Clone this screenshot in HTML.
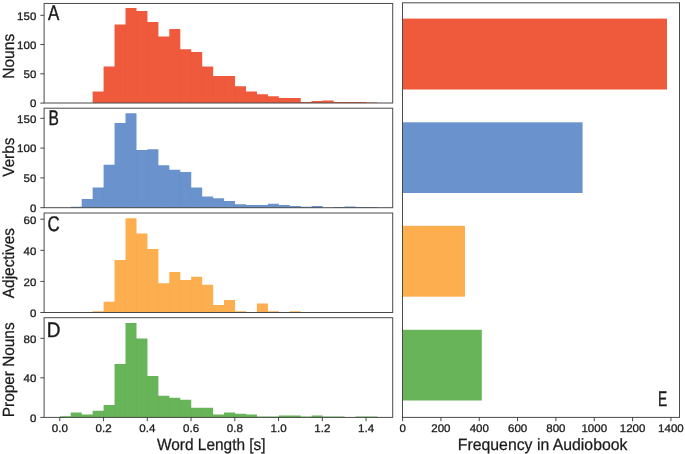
<!DOCTYPE html>
<html><head><meta charset="utf-8"><title>Figure</title>
<style>
html,body{margin:0;padding:0;background:#fff;}
svg{display:block;font-family:"Liberation Sans",sans-serif;fill:#1a1a1a;text-rendering:geometricPrecision;}
</style></head><body>
<svg width="685" height="454" viewBox="0 0 685 454">
<rect x="0" y="0" width="685" height="454" fill="#ffffff"/>
<g opacity="0.999">
<path d="M92.65,103.00V91.60H103.65V103.00ZM103.60,103.00V66.40H114.60V103.00ZM114.55,103.00V24.50H125.55V103.00ZM125.50,103.00V8.00H136.50V103.00ZM136.45,103.00V10.90H147.45V103.00ZM147.40,103.00V22.10H158.40V103.00ZM158.35,103.00V36.60H169.35V103.00ZM169.30,103.00V29.10H180.30V103.00ZM180.25,103.00V49.20H191.25V103.00ZM191.20,103.00V51.90H202.20V103.00ZM202.15,103.00V66.40H213.15V103.00ZM213.10,103.00V76.10H224.10V103.00ZM224.05,103.00V76.10H235.05V103.00ZM235.00,103.00V86.20H246.00V103.00ZM245.95,103.00V91.40H256.95V103.00ZM256.90,103.00V94.20H267.90V103.00ZM267.85,103.00V96.20H278.85V103.00ZM278.80,103.00V97.90H289.80V103.00ZM289.75,103.00V97.90H300.75V103.00ZM300.70,103.00V102.10H311.70V103.00ZM311.65,103.00V101.10H322.65V103.00ZM322.60,103.00V100.40H333.60V103.00ZM333.55,103.00V102.10H344.55V103.00ZM344.50,103.00V102.10H355.50V103.00ZM355.45,103.00V102.10H366.45V103.00ZM366.40,103.00V102.50H377.40V103.00Z" fill="#ee5a3b"/>
<line x1="103.60" y1="91.60" x2="103.60" y2="102.50" stroke="#000" stroke-opacity="0.016" stroke-width="1"/>
<line x1="114.55" y1="66.40" x2="114.55" y2="102.50" stroke="#000" stroke-opacity="0.016" stroke-width="1"/>
<line x1="125.50" y1="24.50" x2="125.50" y2="102.50" stroke="#000" stroke-opacity="0.016" stroke-width="1"/>
<line x1="136.45" y1="10.90" x2="136.45" y2="102.50" stroke="#000" stroke-opacity="0.016" stroke-width="1"/>
<line x1="147.40" y1="22.10" x2="147.40" y2="102.50" stroke="#000" stroke-opacity="0.016" stroke-width="1"/>
<line x1="158.35" y1="36.60" x2="158.35" y2="102.50" stroke="#000" stroke-opacity="0.016" stroke-width="1"/>
<line x1="169.30" y1="36.60" x2="169.30" y2="102.50" stroke="#000" stroke-opacity="0.016" stroke-width="1"/>
<line x1="180.25" y1="49.20" x2="180.25" y2="102.50" stroke="#000" stroke-opacity="0.016" stroke-width="1"/>
<line x1="191.20" y1="51.90" x2="191.20" y2="102.50" stroke="#000" stroke-opacity="0.016" stroke-width="1"/>
<line x1="202.15" y1="66.40" x2="202.15" y2="102.50" stroke="#000" stroke-opacity="0.016" stroke-width="1"/>
<line x1="213.10" y1="76.10" x2="213.10" y2="102.50" stroke="#000" stroke-opacity="0.016" stroke-width="1"/>
<line x1="224.05" y1="76.10" x2="224.05" y2="102.50" stroke="#000" stroke-opacity="0.016" stroke-width="1"/>
<line x1="235.00" y1="86.20" x2="235.00" y2="102.50" stroke="#000" stroke-opacity="0.016" stroke-width="1"/>
<line x1="245.95" y1="91.40" x2="245.95" y2="102.50" stroke="#000" stroke-opacity="0.016" stroke-width="1"/>
<line x1="256.90" y1="94.20" x2="256.90" y2="102.50" stroke="#000" stroke-opacity="0.016" stroke-width="1"/>
<line x1="267.85" y1="96.20" x2="267.85" y2="102.50" stroke="#000" stroke-opacity="0.016" stroke-width="1"/>
<line x1="278.80" y1="97.90" x2="278.80" y2="102.50" stroke="#000" stroke-opacity="0.016" stroke-width="1"/>
<line x1="289.75" y1="97.90" x2="289.75" y2="102.50" stroke="#000" stroke-opacity="0.016" stroke-width="1"/>
<rect x="44.1" y="3.45" width="348.59999999999997" height="99.55" fill="none" stroke="#4a4a4a" stroke-width="1"/>
<path d="M70.75,207.70V206.80H81.75V207.70ZM81.70,207.70V199.00H92.70V207.70ZM92.65,207.70V187.60H103.65V207.70ZM103.60,207.70V164.80H114.60V207.70ZM114.55,207.70V123.00H125.55V207.70ZM125.50,207.70V113.20H136.50V207.70ZM136.45,207.70V149.90H147.45V207.70ZM147.40,207.70V149.20H158.40V207.70ZM158.35,207.70V165.20H169.35V207.70ZM169.30,207.70V169.80H180.30V207.70ZM180.25,207.70V171.90H191.25V207.70ZM191.20,207.70V187.40H202.20V207.70ZM202.15,207.70V196.40H213.15V207.70ZM213.10,207.70V198.30H224.10V207.70ZM224.05,207.70V201.10H235.05V207.70ZM235.00,207.70V204.30H246.00V207.70ZM245.95,207.70V205.10H256.95V207.70ZM256.90,207.70V205.10H267.90V207.70ZM267.85,207.70V203.70H278.85V207.70ZM278.80,207.70V205.00H289.80V207.70ZM289.75,207.70V205.90H300.75V207.70ZM300.70,207.70V206.70H311.70V207.70ZM311.65,207.70V205.90H322.65V207.70ZM333.55,207.70V207.00H344.55V207.70ZM344.50,207.70V206.50H355.50V207.70ZM355.45,207.70V207.10H366.45V207.70ZM366.40,207.70V207.00H377.40V207.70Z" fill="#6a93cd"/>
<line x1="92.65" y1="199.00" x2="92.65" y2="207.20" stroke="#000" stroke-opacity="0.016" stroke-width="1"/>
<line x1="103.60" y1="187.60" x2="103.60" y2="207.20" stroke="#000" stroke-opacity="0.016" stroke-width="1"/>
<line x1="114.55" y1="164.80" x2="114.55" y2="207.20" stroke="#000" stroke-opacity="0.016" stroke-width="1"/>
<line x1="125.50" y1="123.00" x2="125.50" y2="207.20" stroke="#000" stroke-opacity="0.016" stroke-width="1"/>
<line x1="136.45" y1="149.90" x2="136.45" y2="207.20" stroke="#000" stroke-opacity="0.016" stroke-width="1"/>
<line x1="147.40" y1="149.90" x2="147.40" y2="207.20" stroke="#000" stroke-opacity="0.016" stroke-width="1"/>
<line x1="158.35" y1="165.20" x2="158.35" y2="207.20" stroke="#000" stroke-opacity="0.016" stroke-width="1"/>
<line x1="169.30" y1="169.80" x2="169.30" y2="207.20" stroke="#000" stroke-opacity="0.016" stroke-width="1"/>
<line x1="180.25" y1="171.90" x2="180.25" y2="207.20" stroke="#000" stroke-opacity="0.016" stroke-width="1"/>
<line x1="191.20" y1="187.40" x2="191.20" y2="207.20" stroke="#000" stroke-opacity="0.016" stroke-width="1"/>
<line x1="202.15" y1="196.40" x2="202.15" y2="207.20" stroke="#000" stroke-opacity="0.016" stroke-width="1"/>
<line x1="213.10" y1="198.30" x2="213.10" y2="207.20" stroke="#000" stroke-opacity="0.016" stroke-width="1"/>
<line x1="224.05" y1="201.10" x2="224.05" y2="207.20" stroke="#000" stroke-opacity="0.016" stroke-width="1"/>
<line x1="235.00" y1="204.30" x2="235.00" y2="207.20" stroke="#000" stroke-opacity="0.016" stroke-width="1"/>
<line x1="245.95" y1="205.10" x2="245.95" y2="207.20" stroke="#000" stroke-opacity="0.016" stroke-width="1"/>
<line x1="256.90" y1="205.10" x2="256.90" y2="207.20" stroke="#000" stroke-opacity="0.016" stroke-width="1"/>
<line x1="267.85" y1="205.10" x2="267.85" y2="207.20" stroke="#000" stroke-opacity="0.016" stroke-width="1"/>
<line x1="278.80" y1="205.00" x2="278.80" y2="207.20" stroke="#000" stroke-opacity="0.016" stroke-width="1"/>
<rect x="44.1" y="108.2" width="348.59999999999997" height="99.49999999999999" fill="none" stroke="#4a4a4a" stroke-width="1"/>
<path d="M92.65,312.50V311.30H103.65V312.50ZM103.60,312.50V301.70H114.60V312.50ZM114.55,312.50V259.90H125.55V312.50ZM125.50,312.50V218.20H136.50V312.50ZM136.45,312.50V233.40H147.45V312.50ZM147.40,312.50V248.90H158.40V312.50ZM158.35,312.50V283.20H169.35V312.50ZM169.30,312.50V272.00H180.30V312.50ZM180.25,312.50V280.10H191.25V312.50ZM191.20,312.50V276.80H202.20V312.50ZM202.15,312.50V284.70H213.15V312.50ZM213.10,312.50V305.00H224.10V312.50ZM224.05,312.50V300.00H235.05V312.50ZM235.00,312.50V311.20H246.00V312.50ZM256.90,312.50V303.50H267.90V312.50ZM267.85,312.50V311.20H278.85V312.50ZM289.75,312.50V311.20H300.75V312.50Z" fill="#fdae4f"/>
<line x1="114.55" y1="301.70" x2="114.55" y2="312.00" stroke="#000" stroke-opacity="0.016" stroke-width="1"/>
<line x1="125.50" y1="259.90" x2="125.50" y2="312.00" stroke="#000" stroke-opacity="0.016" stroke-width="1"/>
<line x1="136.45" y1="233.40" x2="136.45" y2="312.00" stroke="#000" stroke-opacity="0.016" stroke-width="1"/>
<line x1="147.40" y1="248.90" x2="147.40" y2="312.00" stroke="#000" stroke-opacity="0.016" stroke-width="1"/>
<line x1="158.35" y1="283.20" x2="158.35" y2="312.00" stroke="#000" stroke-opacity="0.016" stroke-width="1"/>
<line x1="169.30" y1="283.20" x2="169.30" y2="312.00" stroke="#000" stroke-opacity="0.016" stroke-width="1"/>
<line x1="180.25" y1="280.10" x2="180.25" y2="312.00" stroke="#000" stroke-opacity="0.016" stroke-width="1"/>
<line x1="191.20" y1="280.10" x2="191.20" y2="312.00" stroke="#000" stroke-opacity="0.016" stroke-width="1"/>
<line x1="202.15" y1="284.70" x2="202.15" y2="312.00" stroke="#000" stroke-opacity="0.016" stroke-width="1"/>
<line x1="213.10" y1="305.00" x2="213.10" y2="312.00" stroke="#000" stroke-opacity="0.016" stroke-width="1"/>
<line x1="224.05" y1="305.00" x2="224.05" y2="312.00" stroke="#000" stroke-opacity="0.016" stroke-width="1"/>
<rect x="44.1" y="213.0" width="348.59999999999997" height="99.5" fill="none" stroke="#4a4a4a" stroke-width="1"/>
<path d="M59.80,417.40V416.30H70.80V417.40ZM70.75,417.40V412.50H81.75V417.40ZM81.70,417.40V414.60H92.70V417.40ZM92.65,417.40V410.80H103.65V417.40ZM103.60,417.40V404.90H114.60V417.40ZM114.55,417.40V363.90H125.55V417.40ZM125.50,417.40V322.90H136.50V417.40ZM136.45,417.40V338.40H147.45V417.40ZM147.40,417.40V376.00H158.40V417.40ZM158.35,417.40V395.80H169.35V417.40ZM169.30,417.40V397.70H180.30V417.40ZM180.25,417.40V399.70H191.25V417.40ZM191.20,417.40V407.80H202.20V417.40ZM202.15,417.40V407.80H213.15V417.40ZM213.10,417.40V414.60H224.10V417.40ZM224.05,417.40V412.60H235.05V417.40ZM235.00,417.40V413.70H246.00V417.40ZM245.95,417.40V414.60H256.95V417.40ZM256.90,417.40V416.40H267.90V417.40ZM267.85,417.40V416.40H278.85V417.40ZM278.80,417.40V415.40H289.80V417.40ZM289.75,417.40V415.40H300.75V417.40ZM300.70,417.40V416.50H311.70V417.40ZM311.65,417.40V415.40H322.65V417.40ZM322.60,417.40V416.50H333.60V417.40ZM333.55,417.40V416.50H344.55V417.40ZM355.45,417.40V416.60H366.45V417.40ZM366.40,417.40V416.60H377.40V417.40Z" fill="#68b458"/>
<line x1="81.70" y1="414.60" x2="81.70" y2="416.90" stroke="#000" stroke-opacity="0.016" stroke-width="1"/>
<line x1="92.65" y1="414.60" x2="92.65" y2="416.90" stroke="#000" stroke-opacity="0.016" stroke-width="1"/>
<line x1="103.60" y1="410.80" x2="103.60" y2="416.90" stroke="#000" stroke-opacity="0.016" stroke-width="1"/>
<line x1="114.55" y1="404.90" x2="114.55" y2="416.90" stroke="#000" stroke-opacity="0.016" stroke-width="1"/>
<line x1="125.50" y1="363.90" x2="125.50" y2="416.90" stroke="#000" stroke-opacity="0.016" stroke-width="1"/>
<line x1="136.45" y1="338.40" x2="136.45" y2="416.90" stroke="#000" stroke-opacity="0.016" stroke-width="1"/>
<line x1="147.40" y1="376.00" x2="147.40" y2="416.90" stroke="#000" stroke-opacity="0.016" stroke-width="1"/>
<line x1="158.35" y1="395.80" x2="158.35" y2="416.90" stroke="#000" stroke-opacity="0.016" stroke-width="1"/>
<line x1="169.30" y1="397.70" x2="169.30" y2="416.90" stroke="#000" stroke-opacity="0.016" stroke-width="1"/>
<line x1="180.25" y1="399.70" x2="180.25" y2="416.90" stroke="#000" stroke-opacity="0.016" stroke-width="1"/>
<line x1="191.20" y1="407.80" x2="191.20" y2="416.90" stroke="#000" stroke-opacity="0.016" stroke-width="1"/>
<line x1="202.15" y1="407.80" x2="202.15" y2="416.90" stroke="#000" stroke-opacity="0.016" stroke-width="1"/>
<line x1="213.10" y1="414.60" x2="213.10" y2="416.90" stroke="#000" stroke-opacity="0.016" stroke-width="1"/>
<line x1="224.05" y1="414.60" x2="224.05" y2="416.90" stroke="#000" stroke-opacity="0.016" stroke-width="1"/>
<line x1="235.00" y1="413.70" x2="235.00" y2="416.90" stroke="#000" stroke-opacity="0.016" stroke-width="1"/>
<line x1="245.95" y1="414.60" x2="245.95" y2="416.90" stroke="#000" stroke-opacity="0.016" stroke-width="1"/>
<rect x="44.1" y="317.7" width="348.59999999999997" height="99.69999999999999" fill="none" stroke="#4a4a4a" stroke-width="1"/>
<line x1="40.30" y1="103.10" x2="44.10" y2="103.10" stroke="#333" stroke-width="0.9"/>
<text x="36.30" y="107.40" font-size="10.9" text-anchor="end"  textLength="6.40" lengthAdjust="spacingAndGlyphs" stroke="#222" stroke-width="0.3">0</text>
<line x1="40.30" y1="73.80" x2="44.10" y2="73.80" stroke="#333" stroke-width="0.9"/>
<text x="36.30" y="78.10" font-size="10.9" text-anchor="end"  textLength="12.80" lengthAdjust="spacingAndGlyphs" stroke="#222" stroke-width="0.3">50</text>
<line x1="40.30" y1="44.50" x2="44.10" y2="44.50" stroke="#333" stroke-width="0.9"/>
<text x="36.30" y="48.80" font-size="10.9" text-anchor="end"  textLength="19.20" lengthAdjust="spacingAndGlyphs" stroke="#222" stroke-width="0.3">100</text>
<line x1="40.30" y1="15.30" x2="44.10" y2="15.30" stroke="#333" stroke-width="0.9"/>
<text x="36.30" y="19.60" font-size="10.9" text-anchor="end"  textLength="19.20" lengthAdjust="spacingAndGlyphs" stroke="#222" stroke-width="0.3">150</text>
<line x1="40.30" y1="207.70" x2="44.10" y2="207.70" stroke="#333" stroke-width="0.9"/>
<text x="36.30" y="212.00" font-size="10.9" text-anchor="end"  textLength="6.40" lengthAdjust="spacingAndGlyphs" stroke="#222" stroke-width="0.3">0</text>
<line x1="40.30" y1="177.90" x2="44.10" y2="177.90" stroke="#333" stroke-width="0.9"/>
<text x="36.30" y="182.20" font-size="10.9" text-anchor="end"  textLength="12.80" lengthAdjust="spacingAndGlyphs" stroke="#222" stroke-width="0.3">50</text>
<line x1="40.30" y1="148.10" x2="44.10" y2="148.10" stroke="#333" stroke-width="0.9"/>
<text x="36.30" y="152.40" font-size="10.9" text-anchor="end"  textLength="19.20" lengthAdjust="spacingAndGlyphs" stroke="#222" stroke-width="0.3">100</text>
<line x1="40.30" y1="118.30" x2="44.10" y2="118.30" stroke="#333" stroke-width="0.9"/>
<text x="36.30" y="122.60" font-size="10.9" text-anchor="end"  textLength="19.20" lengthAdjust="spacingAndGlyphs" stroke="#222" stroke-width="0.3">150</text>
<line x1="40.30" y1="312.50" x2="44.10" y2="312.50" stroke="#333" stroke-width="0.9"/>
<text x="36.30" y="316.80" font-size="10.9" text-anchor="end"  textLength="6.40" lengthAdjust="spacingAndGlyphs" stroke="#222" stroke-width="0.3">0</text>
<line x1="40.30" y1="281.40" x2="44.10" y2="281.40" stroke="#333" stroke-width="0.9"/>
<text x="36.30" y="285.70" font-size="10.9" text-anchor="end"  textLength="12.80" lengthAdjust="spacingAndGlyphs" stroke="#222" stroke-width="0.3">20</text>
<line x1="40.30" y1="250.30" x2="44.10" y2="250.30" stroke="#333" stroke-width="0.9"/>
<text x="36.30" y="254.60" font-size="10.9" text-anchor="end"  textLength="12.80" lengthAdjust="spacingAndGlyphs" stroke="#222" stroke-width="0.3">40</text>
<line x1="40.30" y1="219.20" x2="44.10" y2="219.20" stroke="#333" stroke-width="0.9"/>
<text x="36.30" y="223.50" font-size="10.9" text-anchor="end"  textLength="12.80" lengthAdjust="spacingAndGlyphs" stroke="#222" stroke-width="0.3">60</text>
<line x1="40.30" y1="417.40" x2="44.10" y2="417.40" stroke="#333" stroke-width="0.9"/>
<text x="36.30" y="421.70" font-size="10.9" text-anchor="end"  textLength="6.40" lengthAdjust="spacingAndGlyphs" stroke="#222" stroke-width="0.3">0</text>
<line x1="40.30" y1="377.80" x2="44.10" y2="377.80" stroke="#333" stroke-width="0.9"/>
<text x="36.30" y="382.10" font-size="10.9" text-anchor="end"  textLength="12.80" lengthAdjust="spacingAndGlyphs" stroke="#222" stroke-width="0.3">40</text>
<line x1="40.30" y1="338.30" x2="44.10" y2="338.30" stroke="#333" stroke-width="0.9"/>
<text x="36.30" y="342.60" font-size="10.9" text-anchor="end"  textLength="12.80" lengthAdjust="spacingAndGlyphs" stroke="#222" stroke-width="0.3">80</text>
<line x1="59.80" y1="417.40" x2="59.80" y2="421.20" stroke="#333" stroke-width="0.9"/>
<text x="59.80" y="432.40" font-size="11.0" text-anchor="middle"  textLength="16.10" lengthAdjust="spacingAndGlyphs" stroke="#222" stroke-width="0.3">0.0</text>
<line x1="103.55" y1="417.40" x2="103.55" y2="421.20" stroke="#333" stroke-width="0.9"/>
<text x="103.55" y="432.40" font-size="11.0" text-anchor="middle"  textLength="16.10" lengthAdjust="spacingAndGlyphs" stroke="#222" stroke-width="0.3">0.2</text>
<line x1="147.30" y1="417.40" x2="147.30" y2="421.20" stroke="#333" stroke-width="0.9"/>
<text x="147.30" y="432.40" font-size="11.0" text-anchor="middle"  textLength="16.10" lengthAdjust="spacingAndGlyphs" stroke="#222" stroke-width="0.3">0.4</text>
<line x1="191.05" y1="417.40" x2="191.05" y2="421.20" stroke="#333" stroke-width="0.9"/>
<text x="191.05" y="432.40" font-size="11.0" text-anchor="middle"  textLength="16.10" lengthAdjust="spacingAndGlyphs" stroke="#222" stroke-width="0.3">0.6</text>
<line x1="234.80" y1="417.40" x2="234.80" y2="421.20" stroke="#333" stroke-width="0.9"/>
<text x="234.80" y="432.40" font-size="11.0" text-anchor="middle"  textLength="16.10" lengthAdjust="spacingAndGlyphs" stroke="#222" stroke-width="0.3">0.8</text>
<line x1="278.55" y1="417.40" x2="278.55" y2="421.20" stroke="#333" stroke-width="0.9"/>
<text x="278.55" y="432.40" font-size="11.0" text-anchor="middle"  textLength="16.10" lengthAdjust="spacingAndGlyphs" stroke="#222" stroke-width="0.3">1.0</text>
<line x1="322.30" y1="417.40" x2="322.30" y2="421.20" stroke="#333" stroke-width="0.9"/>
<text x="322.30" y="432.40" font-size="11.0" text-anchor="middle"  textLength="16.10" lengthAdjust="spacingAndGlyphs" stroke="#222" stroke-width="0.3">1.2</text>
<line x1="366.05" y1="417.40" x2="366.05" y2="421.20" stroke="#333" stroke-width="0.9"/>
<text x="366.05" y="432.40" font-size="11.0" text-anchor="middle"  textLength="16.10" lengthAdjust="spacingAndGlyphs" stroke="#222" stroke-width="0.3">1.4</text>
<text transform="translate(48.00,20.45) scale(0.7967,1)" font-size="21.3" stroke="#1a1a1a" stroke-width="0.4">A</text>
<text transform="translate(48.56,125.40) scale(0.7303,1)" font-size="21.3" stroke="#1a1a1a" stroke-width="0.4">B</text>
<text transform="translate(47.46,230.85) scale(0.7899,1)" font-size="21.3" stroke="#1a1a1a" stroke-width="0.4">C</text>
<text transform="translate(46.78,336.55) scale(0.8920,1)" font-size="21.3" stroke="#1a1a1a" stroke-width="0.4">D</text>
<text transform="translate(658.09,406.35) scale(0.6487,1)" font-size="21.3" stroke="#1a1a1a" stroke-width="0.4">E</text>
<text transform="translate(13.60,78.74) rotate(-90) scale(0.9592,1)" font-size="16.2" stroke="#1a1a1a" stroke-width="0.25">Nouns</text>
<text transform="translate(13.60,176.65) rotate(-90) scale(0.9395,1)" font-size="16.2" stroke="#1a1a1a" stroke-width="0.25">Verbs</text>
<text transform="translate(13.60,298.20) rotate(-90) scale(0.9519,1)" font-size="16.2" stroke="#1a1a1a" stroke-width="0.25">Adjectives</text>
<text transform="translate(13.60,417.23) rotate(-90) scale(0.9494,1)" font-size="16.2" stroke="#1a1a1a" stroke-width="0.25">Proper Nouns</text>
<text transform="translate(157.00,450.00) scale(0.9471,1)" font-size="16.3" stroke="#1a1a1a" stroke-width="0.25">Word Length [s]</text>
<text transform="translate(457.83,450.00) scale(0.9707,1)" font-size="16.3" stroke="#1a1a1a" stroke-width="0.25">Frequency in Audiobook</text>
<rect x="402.50" y="18.60" width="264.50" height="70.90" fill="#ee5a3b"/>
<rect x="402.50" y="122.30" width="180.10" height="70.70" fill="#6a93cd"/>
<rect x="402.50" y="225.80" width="62.50" height="70.90" fill="#fdae4f"/>
<rect x="402.50" y="329.80" width="79.30" height="70.70" fill="#68b458"/>
<rect x="402.5" y="2.8" width="277.0" height="414.59999999999997" fill="none" stroke="#4a4a4a" stroke-width="1"/>
<line x1="402.60" y1="417.40" x2="402.60" y2="421.20" stroke="#333" stroke-width="0.9"/>
<text x="402.60" y="432.40" font-size="11.0" text-anchor="middle"  textLength="6.40" lengthAdjust="spacingAndGlyphs" stroke="#222" stroke-width="0.3">0</text>
<line x1="440.93" y1="417.40" x2="440.93" y2="421.20" stroke="#333" stroke-width="0.9"/>
<text x="440.93" y="432.40" font-size="11.0" text-anchor="middle"  textLength="19.20" lengthAdjust="spacingAndGlyphs" stroke="#222" stroke-width="0.3">200</text>
<line x1="479.26" y1="417.40" x2="479.26" y2="421.20" stroke="#333" stroke-width="0.9"/>
<text x="479.26" y="432.40" font-size="11.0" text-anchor="middle"  textLength="19.20" lengthAdjust="spacingAndGlyphs" stroke="#222" stroke-width="0.3">400</text>
<line x1="517.59" y1="417.40" x2="517.59" y2="421.20" stroke="#333" stroke-width="0.9"/>
<text x="517.59" y="432.40" font-size="11.0" text-anchor="middle"  textLength="19.20" lengthAdjust="spacingAndGlyphs" stroke="#222" stroke-width="0.3">600</text>
<line x1="555.92" y1="417.40" x2="555.92" y2="421.20" stroke="#333" stroke-width="0.9"/>
<text x="555.92" y="432.40" font-size="11.0" text-anchor="middle"  textLength="19.20" lengthAdjust="spacingAndGlyphs" stroke="#222" stroke-width="0.3">800</text>
<line x1="594.25" y1="417.40" x2="594.25" y2="421.20" stroke="#333" stroke-width="0.9"/>
<text x="594.25" y="432.40" font-size="11.0" text-anchor="middle"  textLength="25.60" lengthAdjust="spacingAndGlyphs" stroke="#222" stroke-width="0.3">1000</text>
<line x1="632.58" y1="417.40" x2="632.58" y2="421.20" stroke="#333" stroke-width="0.9"/>
<text x="632.58" y="432.40" font-size="11.0" text-anchor="middle"  textLength="25.60" lengthAdjust="spacingAndGlyphs" stroke="#222" stroke-width="0.3">1200</text>
<line x1="670.91" y1="417.40" x2="670.91" y2="421.20" stroke="#333" stroke-width="0.9"/>
<text x="670.91" y="432.40" font-size="11.0" text-anchor="middle"  textLength="25.60" lengthAdjust="spacingAndGlyphs" stroke="#222" stroke-width="0.3">1400</text>
</g>
</svg>
</body></html>
